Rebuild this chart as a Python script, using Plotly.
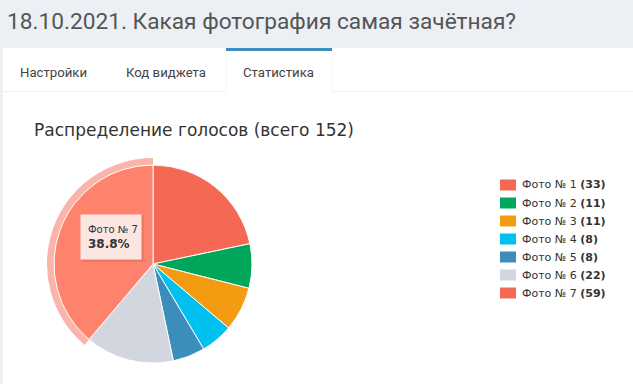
import plotly.graph_objects as go

# ---- data ----
labels = ["Фото № 1", "Фото № 2", "Фото № 3", "Фото № 4", "Фото № 5", "Фото № 6", "Фото № 7"]
votes = [33, 11, 11, 8, 8, 22, 59]
colors = ["#f56954", "#00a65a", "#f39c12", "#00c0ef", "#3c8dbc", "#d2d6de", "#f56954"]
page_title = "18.10.2021. Какая фотография самая зачётная?"
tabs = ["Настройки", "Код виджета", "Статистика"]
hovered = 6  # Фото № 7

W, H = 633, 384
total = sum(votes)
chart_title = f"Распределение голосов (всего {total})"

def px(x):
    return x / W

def py(y):
    return 1 - y / H

def brighten(hexc, amt=25):
    r, g, b = int(hexc[1:3], 16), int(hexc[3:5], 16), int(hexc[5:7], 16)
    return "#%02x%02x%02x" % (min(255, r + amt), min(255, g + amt), min(255, b + amt))

def rgba(hexc, a):
    r, g, b = int(hexc[1:3], 16), int(hexc[3:5], 16), int(hexc[5:7], 16)
    return f"rgba({r},{g},{b},{a})"

# pie geometry (pixels)
cx, cy, R, Rh = 153, 264, 99, 106

def dom(r):
    return dict(x=[px(cx - r), px(cx + r)], y=[py(cy + r), py(cy - r)])

slice_colors = [brighten(c) if i == hovered else c for i, c in enumerate(colors)]
halo_colors = [rgba(c, 0.5) if i == hovered else "rgba(0,0,0,0)" for i, c in enumerate(colors)]

fig = go.Figure()
fig.add_trace(go.Pie(
    labels=labels, values=votes, sort=False, direction="clockwise", rotation=0,
    domain=dom(Rh), hole=R / Rh, textinfo="none", hoverinfo="skip",
    marker=dict(colors=halo_colors, line=dict(width=0)), showlegend=False,
))
fig.add_trace(go.Pie(
    labels=labels, values=votes, sort=False, direction="clockwise", rotation=0,
    domain=dom(R), textinfo="none", hoverinfo="skip",
    marker=dict(colors=slice_colors, line=dict(color="white", width=1)), showlegend=False,
))

shapes = []
ann = []

def rect(x0, x1, y0, y1, fill, layer="below", line=None):
    shapes.append(dict(type="rect", xref="paper", yref="paper",
                       x0=px(x0), x1=px(x1), y0=py(y1), y1=py(y0), fillcolor=fill,
                       line=line or dict(width=0), layer=layer))

def hline(x0, x1, y, color, width=1, layer="below"):
    shapes.append(dict(type="line", xref="paper", yref="paper", x0=px(x0), x1=px(x1),
                       y0=py(y), y1=py(y), line=dict(color=color, width=width), layer=layer))

def vline(x, y0, y1, color, width=1, layer="below"):
    shapes.append(dict(type="line", xref="paper", yref="paper", x0=px(x), x1=px(x),
                       y0=py(y0), y1=py(y1), line=dict(color=color, width=width), layer=layer))

def text(x, y, s, size, color, family, anchor="left"):
    ann.append(dict(xref="paper", yref="paper", x=px(x), y=py(y), text=s, showarrow=False,
                    xanchor=anchor, yanchor="middle",
                    font=dict(family=family, size=size, color=color)))

# white panel
rect(3, W + 5, 48, H + 5, "white")
# tabs
tab_x = [(3, 105), (105, 226), (226, 332)]
act = 2
hline(3, tab_x[act][0], 91.5, "#f0f0f0", 1.2)
hline(tab_x[act][1], W, 91.5, "#f0f0f0", 1.2)
for xx in tab_x[act]:
    vline(xx, 50, 91.5, "#f4f4f4")
rect(tab_x[act][0], tab_x[act][1], 48, 51, "#3c8dbc")
tab_text_x = [17.5, 123.5, 241]
for t, tx in zip(tabs, tab_text_x):
    text(tx, 72, t, 13.2, "#444444", "Roboto")

# page title
text(4.5, 21, page_title, 22.7, "#555555", "Roboto")
# chart title
text(32, 130, chart_title, 17, "#333333", "DejaVu Sans")

# legend
ly0, ldy = 185, 18
for i, (lab, v, c) in enumerate(zip(labels, votes, colors)):
    y = ly0 + i * ldy
    rect(500, 516, y - 5.5, y + 5.5, c, layer="above")
    text(520, y, f"{lab} <b>({v})</b>", 11, "#333333", "DejaVu Sans")

# tooltip for hovered slice
tx0, ty0, tx1, ty1 = 80, 214, 142, 260
rect(tx0 + 1.5, tx1 + 1.5, ty0 + 1.5, ty1 + 1.5, "rgba(0,0,0,0.12)", layer="above")
rect(tx0 + 1, tx1 + 1, ty0 + 1, ty1 + 1, "rgba(0,0,0,0.08)", layer="above")
rect(tx0, tx1, ty0, ty1, "#fce6e1", layer="above",
     line=dict(color=brighten(colors[hovered]), width=1))
pct = votes[hovered] / total * 100
text(86, 229, labels[hovered], 10, "#333333", "DejaVu Sans")
text(86, 244, f"<b>{pct:.1f}%</b>", 12, "#333333", "DejaVu Sans")

fig.update_layout(
    width=W, height=H, margin=dict(l=0, r=0, t=0, b=0),
    paper_bgcolor="#ecf0f5", plot_bgcolor="rgba(0,0,0,0)",
    shapes=shapes, annotations=ann, showlegend=False,
)
fig.write_html("out.html", config={"displayModeBar": False})
